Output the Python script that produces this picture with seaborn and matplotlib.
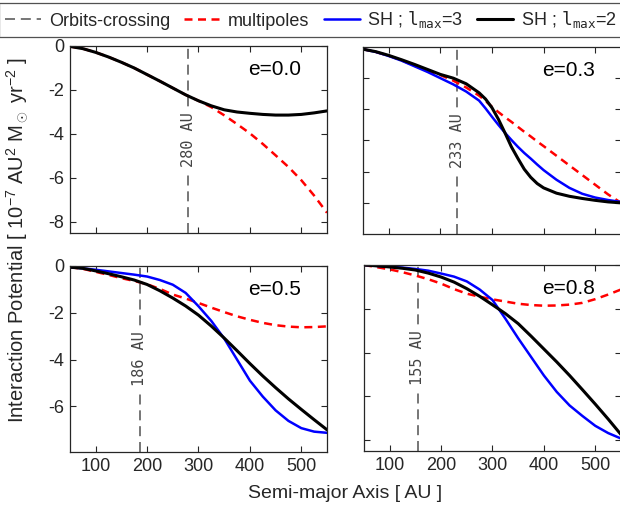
import numpy as np
import pandas as pd
import matplotlib
matplotlib.use("Agg")
import matplotlib.pyplot as plt
import seaborn as sns

# ---------------- data ----------------
a_grid = [50, 75, 100, 125, 150, 175, 200, 225, 250, 275, 300, 325, 350,
          375, 400, 425, 450, 475, 500, 525, 550]
a_grid_e03 = [50, 75, 100, 125, 150, 175, 200, 225, 250, 275, 287.5, 300, 312.5,
              325, 337.5, 350, 362.5, 375, 387.5, 400, 425, 450, 475, 500, 525, 550]

panels = ["e=0.0", "e=0.3", "e=0.5", "e=0.8"]
crossing = [280, 233, 186, 155]

# e = 0.0
sh2_e00 = [-0.02, -0.12, -0.29, -0.50, -0.74, -1.00, -1.30, -1.60, -1.91, -2.22,
           -2.49, -2.72, -2.90, -3.00, -3.06, -3.11, -3.14, -3.14, -3.11, -3.04, -2.95]
mp_e00 = [-0.02, -0.12, -0.29, -0.50, -0.74, -1.00, -1.30, -1.60, -1.91, -2.22,
          -2.49, -2.78, -3.15, -3.55, -3.97, -4.45, -4.97, -5.50, -6.10, -6.80, -7.58]

# e = 0.3
sh2_e03 = [-0.07, -0.15, -0.27, -0.41, -0.56, -0.72, -0.88, -1.00, -1.18, -1.47,
           -1.67, -1.95, -2.32, -2.75, -3.20, -3.57, -3.92, -4.18, -4.38, -4.52,
           -4.69, -4.79, -4.86, -4.92, -4.97, -5.00]
sh3_e03 = [-0.07, -0.16, -0.29, -0.44, -0.62, -0.80, -1.00, -1.20, -1.43, -1.72,
           -1.97, -2.24, -2.50, -2.75, -2.98, -3.20, -3.40, -3.58, -3.77, -3.95,
           -4.26, -4.52, -4.71, -4.83, -4.91, -4.97]
mp_e03 = [-0.07, -0.16, -0.28, -0.43, -0.60, -0.77, -0.90, -1.08, -1.30, -1.56,
          -1.73, -1.92, -2.09, -2.25, -2.40, -2.56, -2.72, -2.87, -3.03, -3.18,
          -3.49, -3.80, -4.11, -4.42, -4.73, -5.00]

# e = 0.5
sh2_e05 = [-0.05, -0.10, -0.21, -0.33, -0.46, -0.60, -0.79, -1.06, -1.37, -1.71,
           -2.10, -2.57, -3.08, -3.62, -4.17, -4.70, -5.20, -5.68, -6.13, -6.57, -7.00]
sh3_e05 = [-0.05, -0.10, -0.16, -0.23, -0.30, -0.37, -0.45, -0.60, -0.80, -1.15,
           -1.72, -2.35, -3.10, -4.00, -4.90, -5.58, -6.17, -6.62, -6.93, -7.08, -7.13]
mp_e05 = [-0.05, -0.12, -0.25, -0.38, -0.52, -0.64, -0.78, -0.98, -1.22, -1.39,
          -1.58, -1.78, -1.97, -2.15, -2.30, -2.43, -2.53, -2.59, -2.62, -2.61, -2.58]

# e = 0.8
sh2_e08 = [0.00, -0.04, -0.09, -0.15, -0.23, -0.37, -0.55, -0.78, -1.08, -1.43,
           -1.82, -2.22, -2.68, -3.25, -3.84, -4.43, -5.05, -5.70, -6.36, -7.04, -7.75]
sh3_e08 = [0.00, -0.04, -0.08, -0.12, -0.18, -0.26, -0.39, -0.53, -0.75, -1.12,
           -1.60, -2.45, -3.35, -4.20, -5.05, -5.80, -6.42, -6.90, -7.35, -7.68, -7.93]
mp_e08 = [0.00, -0.10, -0.20, -0.33, -0.48, -0.65, -0.85, -1.10, -1.31, -1.45,
          -1.57, -1.67, -1.77, -1.83, -1.86, -1.85, -1.81, -1.73, -1.56, -1.35, -1.12]

series = {
    "e=0.0": {"a": a_grid, "mp": mp_e00, "sh3": None, "sh2": sh2_e00},
    "e=0.3": {"a": a_grid_e03, "mp": mp_e03, "sh3": sh3_e03, "sh2": sh2_e03},
    "e=0.5": {"a": a_grid, "mp": mp_e05, "sh3": sh3_e05, "sh2": sh2_e05},
    "e=0.8": {"a": a_grid, "mp": mp_e08, "sh3": sh3_e08, "sh2": sh2_e08},
}

ylims = {"e=0.0": (-8.5, 0), "e=0.3": (-6, 0), "e=0.5": (-7.95, 0), "e=0.8": (-8.5, 0)}
yticks = {"e=0.0": [-8, -6, -4, -2, 0], "e=0.3": [-5, -4, -3, -2, -1],
          "e=0.5": [-6, -4, -2, 0], "e=0.8": [-8, -6, -4, -2, 0]}
xticks = [100, 200, 300, 400, 500]

legend_labels = ["Orbits-crossing", "multipoles",
                 r"SH ; $\mathtt{l}_{\mathtt{max}}$=3",
                 r"SH ; $\mathtt{l}_{\mathtt{max}}$=2"]

# ---------------- style ----------------
sns.set_theme(style="ticks")
plt.rcParams["font.family"] = ["Liberation Sans", "DejaVu Sans"]
plt.rcParams["mathtext.fontset"] = "custom"
plt.rcParams["mathtext.rm"] = "Liberation Sans"
plt.rcParams["mathtext.it"] = "Liberation Sans:italic"
plt.rcParams["mathtext.tt"] = "DejaVu Sans Mono"
plt.rcParams["axes.unicode_minus"] = False

W, H = 620, 511
fig = plt.figure(figsize=(W / 100, H / 100), dpi=100)

def fig_rect(left, top, right, bottom):
    return [left / W, 1 - bottom / H, (right - left) / W, (bottom - top) / H]

rects = {
    "e=0.0": fig_rect(70, 46, 327, 233),
    "e=0.3": fig_rect(363, 47, 621, 234),
    "e=0.5": fig_rect(70, 266, 327, 452),
    "e=0.8": fig_rect(364, 265, 621, 451),
}

GRAY = "#5f5f5f"
handles = {}
for i, name in enumerate(panels):
    ax = fig.add_axes(rects[name])
    d = series[name]
    ax.axvline(crossing[i], color=GRAY, lw=1.2, dashes=(6, 3.5))
    handles["gray"] = ax.lines[-1]
    sns.lineplot(x=d["a"], y=d["mp"], ax=ax, color="#ff0000", lw=1.8)
    ax.lines[-1].set_dashes((3.2, 2.2))
    handles["mp"] = ax.lines[-1]
    if d["sh3"] is not None:
        sns.lineplot(x=d["a"], y=d["sh3"], ax=ax, color="#0000ff", lw=1.8)
        handles["sh3"] = ax.lines[-1]
    sns.lineplot(x=d["a"], y=d["sh2"], ax=ax, color="black", lw=2.2)
    handles["sh2"] = ax.lines[-1]
    for ln in ax.lines:
        ln.set_solid_joinstyle("round")
        ln.set_solid_capstyle("round")

    ax.set_xlim(50, 550)
    ax.set_ylim(*ylims[name])
    ax.set_xticks(xticks)
    ax.set_yticks(yticks[name])
    ax.tick_params(direction="in", top=True, right=True, length=4, width=0.8,
                   labelsize=13, colors="#262626", pad=4)
    for s in ax.spines.values():
        s.set_linewidth(0.9)
        s.set_color("#262626")
    if i in (0, 1):
        ax.set_xticklabels([])
    if i in (1, 3):
        ax.set_yticklabels([])
    ax.set_xlabel("")
    ax.set_ylabel("")
    ax.text(0.90, 0.875, name, transform=ax.transAxes, ha="right", va="center",
            fontsize=15, color="black")
    ax.text(crossing[i], 0.5, f"{crossing[i]} AU",
            transform=ax.get_xaxis_transform(), rotation=90, ha="center",
            va="center", fontsize=11, color="#444444", family="DejaVu Sans Mono",
            bbox=dict(facecolor="white", edgecolor="none", pad=3))

fig.text(17 / W, 1 - 240 / H,
         r"Interaction Potential [ 10$^{-7}$ AU$^2$ M$_\odot$ yr$^{-2}$ ]",
         rotation=90, ha="center", va="center", fontsize=14.5, color="#262626")
fig.text(345 / W, 1 - 494 / H, "Semi-major Axis [ AU ]", ha="center",
         va="center", fontsize=14, color="#262626")

leg = fig.legend([handles["gray"], handles["mp"], handles["sh3"], handles["sh2"]],
                 legend_labels, loc="center", bbox_to_anchor=(311 / W, 1 - 20 / H),
                 ncol=4, fontsize=13, frameon=True, fancybox=False,
                 handlelength=2.0, handletextpad=0.4, columnspacing=0.8,
                 borderpad=0.35)
leg.get_frame().set_edgecolor("#262626")
leg.get_frame().set_linewidth(0.9)

fig.savefig("out.png", dpi=100)
